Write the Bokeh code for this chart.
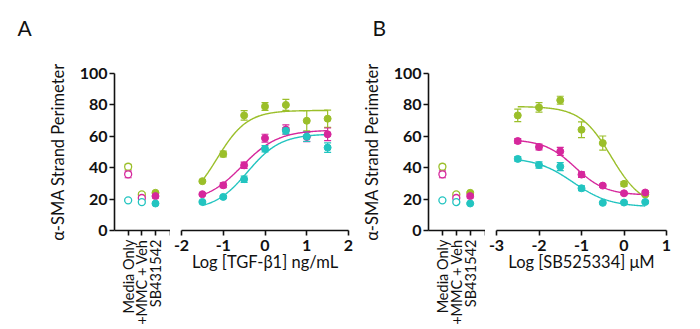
import math
from bokeh.plotting import figure
from bokeh.layouts import row
from bokeh.models import Range1d, FixedTicker, Whisker, TeeHead, ColumnDataSource, Title
from bokeh.embed import file_html
from bokeh.resources import INLINE
import numpy as np

# ---------------- data ----------------
ctrl_x = [1, 2, 3]
ctrl_labels = ["Media Only", "+MMC + Veh", "SB431542"]
ctrl_open = [True, True, False]

green_ctrl = [40.6, 23.0, 24.0]
green_ctrl_err = [1.5, 1.0, 0.8]
magenta_ctrl = [35.8, 20.7, 21.9]
magenta_ctrl_err = [2.2, 1.0, 1.2]
cyan_ctrl = [19.2, 18.1, 17.2]
cyan_ctrl_err = [0.6, 1.0, 0.6]

# Panel A: Log [TGF-b1] ng/mL
tgf_x = [-1.5, -1.0, -0.5, 0.0, 0.5, 1.0, 1.5]
green_tgf = [31.4, 48.7, 73.3, 79.0, 80.0, 69.9, 71.2]
green_tgf_err = [0.8, 1.8, 3.0, 2.5, 3.5, 6.5, 5.5]
magenta_tgf = [23.1, 28.8, 41.5, 58.8, 64.3, 59.6, 61.3]
magenta_tgf_err = [0.8, 1.5, 2.0, 2.5, 3.0, 3.0, 4.0]
cyan_tgf = [18.2, 21.4, 32.7, 52.0, 63.5, 59.8, 52.8]
cyan_tgf_err = [0.8, 0.8, 2.0, 2.0, 2.0, 3.0, 3.0]

# Panel B: Log [SB525334] uM
sb_x = [-2.5, -2.0, -1.5, -1.0, -0.5, 0.0, 0.5]
green_sb = [73.3, 78.4, 83.0, 64.2, 55.7, 29.7, 22.9]
green_sb_err = [4.0, 3.0, 2.5, 5.0, 4.5, 1.5, 0.8]
magenta_sb = [57.0, 53.2, 50.4, 35.6, 28.6, 23.7, 24.2]
magenta_sb_err = [1.5, 1.8, 2.5, 1.8, 1.0, 0.8, 1.0]
cyan_sb = [45.6, 41.7, 40.7, 26.9, 17.6, 17.8, 18.2]
cyan_sb_err = [1.5, 2.0, 2.5, 1.5, 0.6, 0.6, 0.7]

# 4-parameter logistic fit parameters (bottom, top, logEC50, hill)
green_tgf_fit = (15.0, 76.5, -1.15, 1.2)
magenta_tgf_fit = (18.0, 64.0, -0.55, 1.0)
cyan_tgf_fit = (13.0, 61.5, -0.42, 1.1)
green_sb_fit = (15.0, 79.0, -0.30, -1.2)
magenta_sb_fit = (22.5, 58.0, -1.15, -1.2)
cyan_sb_fit = (15.0, 46.5, -1.20, -1.0)

GREEN = "#9bbf2a"
MAGENTA = "#d6279c"
CYAN = "#22c4c0"
FONT = "Lato"
INK = "#111111"

H = 329
TOP = 73
BOTTOM = 99


def fourpl(x, p):
    b, t, ec, h = p
    return b + (t - b) / (1 + 10 ** ((ec - x) * h))


def style_common(p):
    p.outline_line_color = None
    p.xgrid.visible = False
    p.ygrid.visible = False
    p.background_fill_color = "white"
    p.border_fill_color = "white"
    p.min_border_top = TOP
    p.min_border_bottom = BOTTOM
    for ax in p.axis:
        ax.axis_line_width = 1.6
        ax.axis_line_color = INK
        ax.major_tick_line_width = 1.6
        ax.major_tick_line_color = INK
        ax.major_tick_out = 5
        ax.major_tick_in = 0
        ax.minor_tick_line_color = None
        ax.major_label_text_font = FONT
        ax.major_label_text_font_size = "16px"
        ax.major_label_text_font_style = "bold"
        ax.major_label_text_color = INK
        ax.axis_label_text_font = FONT
        ax.axis_label_text_font_size = "16.5px"
        ax.axis_label_text_font_style = "normal"
        ax.axis_label_text_color = INK


def add_series(p, xs, ys, errs, color, open_flags=None):
    lo = [y - e for y, e in zip(ys, errs)]
    hi = [y + e for y, e in zip(ys, errs)]
    src = ColumnDataSource(dict(x=xs, lo=lo, hi=hi))
    w = Whisker(source=src, base="x", lower="lo", upper="hi", line_color=color, line_width=1.2,
                upper_head=TeeHead(size=7, line_color=color, line_width=1.2),
                lower_head=TeeHead(size=7, line_color=color, line_width=1.2))
    p.add_layout(w)
    if open_flags is None:
        p.scatter(xs, ys, size=7, color=color)
    else:
        xo = [x for x, o in zip(xs, open_flags) if o]
        yo = [y for y, o in zip(ys, open_flags) if o]
        xf = [x for x, o in zip(xs, open_flags) if not o]
        yf = [y for y, o in zip(ys, open_flags) if not o]
        p.scatter(xo, yo, size=7, fill_color="white", line_color=color, line_width=1.3)
        p.scatter(xf, yf, size=7, color=color)


def ctrl_fig(width, border_left, letter, letter_offset):
    p = figure(width=width, height=H, x_range=Range1d(0, 4.1), y_range=Range1d(0, 100),
               output_backend="svg", toolbar_location=None, min_border_left=border_left,
               min_border_right=0)
    p.add_layout(Title(text=letter + "\n", align="left", offset=letter_offset, text_font=FONT,
                       text_font_size="21px", text_font_style="normal", text_color=INK,
                       vertical_align="top", standoff=14), "above")
    style_common(p)
    p.yaxis.ticker = FixedTicker(ticks=[0, 20, 40, 60, 80, 100])
    p.yaxis.axis_label = "α-SMA Strand Perimeter"
    p.yaxis.axis_label_standoff = 9
    p.yaxis.major_label_standoff = 2
    p.xaxis.ticker = FixedTicker(ticks=[1, 2, 3, 4.1])
    p.xaxis.major_label_overrides = {1: ctrl_labels[0], 2: ctrl_labels[1], 3: ctrl_labels[2], 4.1: ""}
    p.xaxis.major_label_orientation = math.pi / 2
    p.xaxis.major_label_text_font_style = "normal"
    p.xaxis.major_label_text_font_size = "14.5px"
    p.xaxis.major_label_standoff = 4
    add_series(p, ctrl_x, green_ctrl, green_ctrl_err, GREEN, ctrl_open)
    add_series(p, ctrl_x, magenta_ctrl, magenta_ctrl_err, MAGENTA, ctrl_open)
    add_series(p, ctrl_x, cyan_ctrl, cyan_ctrl_err, CYAN, ctrl_open)
    return p


def dose_fig(width, xr, ticks, xs, series, label, bl, br):
    p = figure(width=width, height=H, x_range=Range1d(*xr), y_range=Range1d(0, 100),
               output_backend="svg", toolbar_location=None, min_border_left=bl,
               min_border_right=br)
    style_common(p)
    p.yaxis.visible = False
    p.xaxis.ticker = FixedTicker(ticks=ticks)
    p.xaxis.major_label_overrides = {t: "%d" % t for t in ticks}
    p.xaxis.major_label_standoff = 4
    p.xaxis.axis_label = label
    p.xaxis.axis_label_standoff = -2
    xx = np.linspace(min(xs), max(xs), 200)
    for ys, errs, color, fit in series:
        p.line(xx, fourpl(xx, fit), line_color=color, line_width=1.4)
    for ys, errs, color, fit in series:
        add_series(p, xs, ys, errs, color)
    return p


LA = ctrl_fig(170, 114, "A", 17 - 114)
RA = dose_fig(186, (-2, 2), [-2, -1, 0, 1, 2], tgf_x,
              [(green_tgf, green_tgf_err, GREEN, green_tgf_fit),
               (magenta_tgf, magenta_tgf_err, MAGENTA, magenta_tgf_fit),
               (cyan_tgf, cyan_tgf_err, CYAN, cyan_tgf_fit)],
              "Log [TGF-β1] ng/mL", 11, 8)
LB = ctrl_fig(129, 72, "B", 372 - 428)
RB = dose_fig(193, (-3, 1), [-3, -2, -1, 0, 1], sb_x,
              [(green_sb, green_sb_err, GREEN, green_sb_fit),
               (magenta_sb, magenta_sb_err, MAGENTA, magenta_sb_fit),
               (cyan_sb, cyan_sb_err, CYAN, cyan_sb_fit)],
              "Log [SB525334] μM", 11, 12)

layout = row(LA, RA, LB, RB)
open("out.html", "w").write(file_html(layout, INLINE))
